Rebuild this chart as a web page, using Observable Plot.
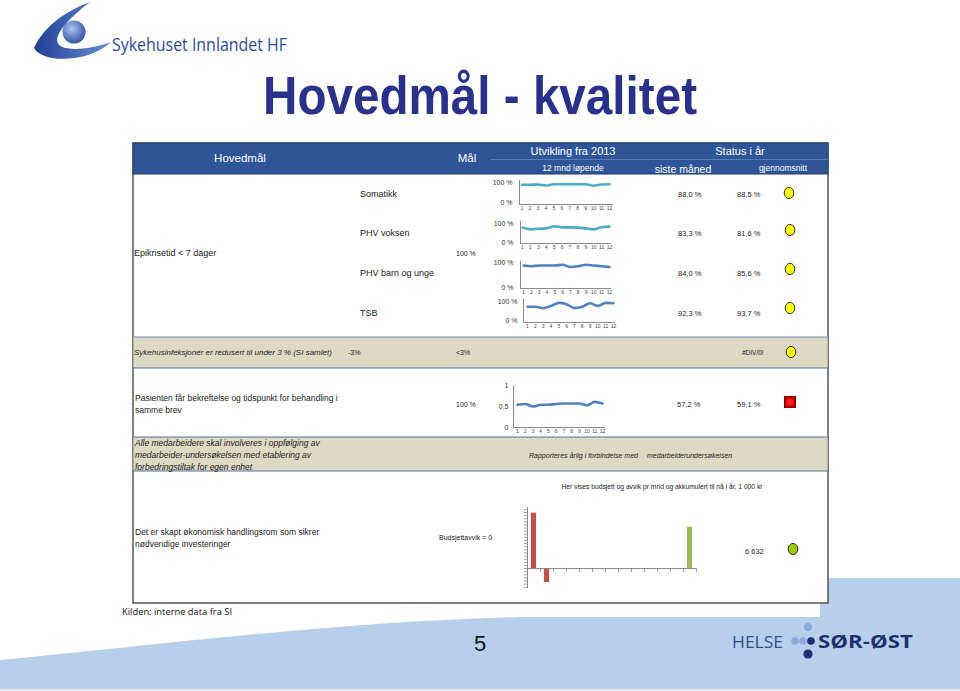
<!DOCTYPE html>
<html><head><meta charset="utf-8">
<script src="https://cdn.jsdelivr.net/npm/d3@7"></script>
<script src="https://cdn.jsdelivr.net/npm/@observablehq/plot@0.6"></script>
<style>
html,body{margin:0;padding:0;background:#fff;}
#page{position:relative;width:960px;height:691px;overflow:hidden;font-family:"Liberation Sans",Arial,sans-serif;}
#bg{position:absolute;left:0;top:0;}
.plot{position:absolute;}
</style></head><body><div id="page"><svg id="bg" width="960" height="691"></svg></div>
<script>
// ---------- DATA ----------
const months = [1,2,3,4,5,6,7,8,9,10,11,12];
const somatikk   = [89, 89, 90, 85, 91, 91, 91, 91, 91, 84, 90, 91];
const phvVoksen  = [79, 70, 73, 75, 86, 80, 80, 79, 75, 70, 81, 84];
const phvBarn    = [88, 85, 88, 88, 88, 91, 82, 85, 91, 88, 85, 82];
const tsb        = [72, 72, 65, 77, 93, 86, 65, 72, 91, 77, 93, 91];
const pasient    = [0.54, 0.56, 0.50, 0.54, 0.54, 0.56, 0.57, 0.57, 0.57, 0.53, 0.61, 0.57];
const budsjettMnd = [8880, -2248, 0, 0, 0, 0, 0, 0, 0, 0, 0, 0];
const budsjettAkk = 6632;
const pctTicks = [0, 100];
const andelTicks = [0, 0.5, 1];

const rowLabels = ["Somatikk", "PHV voksen", "PHV barn og unge", "TSB"];
const sisteManed = ["88,0 %", "83,3 %", "84,0 %", "92,3 %"];
const gjennomsnitt = ["88,5 %", "81,6 %", "85,6 %", "93,7 %"];

// ---------- BACKGROUND / LAYOUT ----------
const svg = d3.select("#bg");
const FONT = "Liberation Sans, Arial, sans-serif";
function txt(x, y, s, o = {}) {
  const t = svg.append("text").attr("x", x).attr("y", y).text(s)
    .attr("dominant-baseline", "central")
    .attr("font-family", o.family || FONT)
    .attr("font-size", o.size || 9)
    .attr("font-weight", o.weight || "normal")
    .attr("font-style", o.style || "normal")
    .attr("text-anchor", o.anchor || "start")
    .attr("fill", o.fill || "#222");
  if (o.len) t.attr("textLength", o.len).attr("lengthAdjust", "spacingAndGlyphs");
  return t;
}
const defs = svg.append("defs");
const lg = defs.append("linearGradient").attr("id", "sw").attr("x1", "0").attr("x2", "1").attr("y1", "0").attr("y2", "0");
lg.append("stop").attr("offset", "0").attr("stop-color", "#1f3f96");
lg.append("stop").attr("offset", "1").attr("stop-color", "#6b8fd6");
const rg = defs.append("radialGradient").attr("id", "ball").attr("cx", "0.4").attr("cy", "0.35").attr("r", "0.7");
rg.append("stop").attr("offset", "0").attr("stop-color", "#a9c4ee");
rg.append("stop").attr("offset", "1").attr("stop-color", "#2b4ea5");

// wave
svg.append("path").attr("d", "M0,660 C160,645 330,622 520,617 L960,617 L960,689 L0,689 Z").attr("fill", "#b7cfeb");
svg.append("rect").attr("x", 820).attr("y", 578).attr("width", 140).attr("height", 50).attr("fill", "#b7cfeb");
svg.append("rect").attr("x", 0).attr("y", 689).attr("width", 960).attr("height", 2).attr("fill", "#e6e9ee");

// logo
svg.append("path").attr("d", "M34,48 C42,30 62,12 90,2 C72,16 58,30 57,40 C57,51 82,52 111,42 C96,56 72,61 52,58 C42,56 36,52 34,48 Z").attr("fill", "url(#sw)");
svg.append("circle").attr("cx", 74).attr("cy", 32).attr("r", 11.5).attr("fill", "url(#ball)");
txt(112, 44, "Sykehuset Innlandet HF", {size: 19, fill: "#2b4c9e", family: "Open Sans, Liberation Sans, sans-serif", len: 175});

// title
txt(480, 95, "Hovedmål - kvalitet", {size: 53, weight: "bold", anchor: "middle", fill: "#29318a", len: 434});

// frame
svg.append("rect").attr("x", 133).attr("y", 143).attr("width", 695).attr("height", 460).attr("fill", "#fff").attr("stroke", "#555").attr("stroke-width", 1.5);
svg.append("rect").attr("x", 133).attr("y", 143).attr("width", 695).attr("height", 31).attr("fill", "#2e5597").attr("stroke", "#1f3f75").attr("stroke-width", 1);
svg.append("line").attr("x1", 490).attr("x2", 828).attr("y1", 159.5).attr("y2", 159.5).attr("stroke", "#5b7cb8").attr("stroke-width", 1);

// header text
const W = "#fff";
txt(240, 158, "Hovedmål", {size: 11.5, anchor: "middle", fill: W});
txt(467, 158, "Mål", {size: 11.5, anchor: "middle", fill: W});
txt(573, 151, "Utvikling fra 2013", {size: 11, anchor: "middle", fill: W});
txt(573, 168, "12 mnd løpende", {size: 8.5, anchor: "middle", fill: W});
txt(740, 151, "Status i år", {size: 11, anchor: "middle", fill: W});
txt(683, 169, "siste måned", {size: 10.5, anchor: "middle", fill: W});
txt(783, 168, "gjennomsnitt", {size: 8.5, anchor: "middle", fill: W});

// epikrise rows
const rowY = [194, 233, 273, 313];
rowLabels.forEach((s, i) => {
  txt(360, rowY[i], s, {size: 9});
  txt(678, rowY[i], sisteManed[i], {size: 7.5});
  txt(737, rowY[i], gjennomsnitt[i], {size: 7.5});
});
txt(134, 253, "Epikrisetid < 7 dager", {size: 9});
txt(456, 253, "100 %", {size: 7});
const circY = [193, 230, 269, 308];
function yellow(x, y, fill = "#ffff00") {
  svg.append("ellipse").attr("cx", x).attr("cy", y).attr("rx", 4.8).attr("ry", 5.6).attr("fill", fill).attr("stroke", "#333").attr("stroke-width", 1);
}
circY.forEach((y, i) => yellow(789 + (i ? 1 : 0), y));

// infection band
svg.append("rect").attr("x", 133.5).attr("y", 337).attr("width", 694).attr("height", 31).attr("fill", "#ddd9c3");
svg.append("line").attr("x1", 133).attr("x2", 828).attr("y1", 337).attr("y2", 337).attr("stroke", "#6f86b0");
svg.append("line").attr("x1", 133).attr("x2", 828).attr("y1", 368).attr("y2", 368).attr("stroke", "#4f6fa8");
txt(134, 352, "Sykehusinfeksjoner er redusert til under 3 % (SI samlet)", {size: 8, style: "italic"});
txt(348, 352, "-3%", {size: 7});
txt(456, 352, "<3%", {size: 7});
txt(742, 352, "#DIV/0!", {size: 6.5});
yellow(791, 352);

// pasient row
txt(135, 398, "Pasienten får bekreftelse og tidspunkt for behandling i", {size: 8.5});
txt(135, 410, "samme brev", {size: 8.5});
txt(456, 404, "100 %", {size: 7});
txt(677, 404, "57,2 %", {size: 7.5});
txt(737, 404, "59,1 %", {size: 7.5});
svg.append("rect").attr("x", 784.5).attr("y", 396.5).attr("width", 11).attr("height", 11).attr("fill", "#e00000").attr("stroke", "#7a0000");
svg.append("circle").attr("cx", 790).attr("cy", 402).attr("r", 4.3).attr("fill", "#ff1a1a").attr("stroke", "#900");

// medarbeider band
svg.append("rect").attr("x", 133.5).attr("y", 437).attr("width", 694).attr("height", 34).attr("fill", "#ddd9c3");
svg.append("line").attr("x1", 133).attr("x2", 828).attr("y1", 437).attr("y2", 437).attr("stroke", "#4f6fa8");
svg.append("line").attr("x1", 133).attr("x2", 828).attr("y1", 471).attr("y2", 471).attr("stroke", "#4f6fa8");
txt(135, 443, "Alle medarbeidere skal involveres i oppfølging av", {size: 8.5, style: "italic"});
txt(135, 455, "medarbeider-undersøkelsen med etablering av", {size: 8.5, style: "italic"});
txt(135, 467, "forbedringstiltak for egen enhet", {size: 8.5, style: "italic"});
txt(529, 455, "Rapporteres årlig i forbindelse med", {size: 7, style: "italic"});
txt(647, 455, "medarbeiderundersøkelsen", {size: 7, style: "italic"});

// budget
txt(662, 486, "Her vises budsjett og avvik pr mnd og akkumulert til nå i år, 1 000 kr", {size: 6.5, anchor: "middle", len: 201});
txt(135, 532, "Det er skapt økonomisk handlingsrom som sikrer", {size: 8.5});
txt(135, 544, "nødvendige investeringer", {size: 8.5});
txt(439, 537, "Budsjettavvik = 0", {size: 7});
txt(745, 551, "6 632", {size: 7.5});
yellow(793, 549, "#99cc00");

// footer
txt(122, 611, "Kilden: interne data fra SI", {size: 9, family: "Open Sans, Liberation Sans, sans-serif", len: 110, fill: "#111"});
txt(480, 643, "5", {size: 22, anchor: "middle", fill: "#111"});
txt(732, 641, "HELSE", {size: 17, fill: "#2f4f8f", family: "Open Sans, Liberation Sans, sans-serif", len: 51});
[[795, 641, 3.8, "#8eaadb"], [803, 641, 3.8, "#8eaadb"], [811, 641, 3.8, "#1f2f73"], [808, 627, 4.2, "#8eaadb"], [808, 654, 4.6, "#1f2f73"]]
  .forEach(([x, y, r, c]) => svg.append("circle").attr("cx", x).attr("cy", y).attr("r", r).attr("fill", c));
txt(818, 641, "SØR-ØST", {size: 18, weight: "bold", fill: "#1d2f6f", family: "Open Sans, Liberation Sans, sans-serif", len: 95});

// ---------- PLOTS ----------
const page = document.getElementById("page");
function place(el, left, top, bg) {
  el.classList.add("plot");
  el.style.left = left + "px";
  el.style.top = top + "px";
  if (bg) el.style.background = bg;
  page.appendChild(el);
}
function spark(values, c) {
  const ml = 30, mr = 4, mt = c.mt ?? 4, mb = 8;
  const k = (c.x12 - c.x1) / 11;
  const xd = [1 - (c.x1 - c.ax0) / k, 12 + (c.ax1 - c.x12) / k];
  const m = (c.y0 - c.yMaxPx) / c.yMax;
  const yd = [-(c.yBot - c.y0) / m, c.yMax + (c.yMaxPx - c.yTop) / m];
  const width = ml + (c.ax1 - c.ax0) + mr;
  const height = mt + (c.yBot - c.yTop) + mb;
  const el = Plot.plot({
    width, height, marginLeft: ml, marginRight: mr, marginTop: mt, marginBottom: mb,
    style: {fontFamily: FONT, background: c.bg || "transparent", overflow: "visible"},
    x: {domain: xd, axis: null},
    y: {domain: yd, axis: null},
    marks: [
      Plot.axisY(c.ticks, {tickSize: 0, tickPadding: c.pad ?? 7, fontSize: 7, fill: "#333", tickFormat: c.fmt, label: null}),
      Plot.axisX(months, {tickSize: 0, tickPadding: 1.5, fontSize: 5, fill: "#444", label: null}),
      Plot.ruleX([xd[0]], {stroke: "#8a8a8a", strokeWidth: 1}),
      Plot.ruleY([yd[0]], {stroke: "#8a8a8a", strokeWidth: 1}),
      Plot.line(values.map((v, i) => ({m: months[i], v})), {x: "m", y: "v", stroke: c.color, strokeWidth: 2.6, curve: "monotone-x"})
    ]
  });
  place(el, c.ax0 - ml, c.yTop - mt);
}
const pct = d => d + " %";
const teal = "#4bacc6", blue = "#4f81bd";
spark(somatikk,  {color: teal, ax0: 519, ax1: 613, x1: 521.5, x12: 609, yTop: 180, yBot: 204, yMaxPx: 182, y0: 202, yMax: 100, ticks: pctTicks, fmt: pct});
spark(phvVoksen, {color: teal, ax0: 520, ax1: 611, x1: 522, x12: 609, yTop: 221, yBot: 243, yMaxPx: 223, y0: 242.5, yMax: 100, ticks: pctTicks, fmt: pct});
spark(phvBarn,   {color: blue, ax0: 520, ax1: 611, x1: 523, x12: 609, yTop: 261, yBot: 288, yMaxPx: 262, y0: 287, yMax: 100, ticks: pctTicks, fmt: pct});
spark(tsb,       {color: blue, ax0: 523, ax1: 615, x1: 527, x12: 613, yTop: 299, yBot: 322, yMaxPx: 301, y0: 320, yMax: 100, ticks: pctTicks, fmt: pct, pad: 6});
spark(pasient,   {color: blue, ax0: 513, ax1: 605, x1: 517, x12: 602, yTop: 385, yBot: 427, yMaxPx: 385, y0: 427, yMax: 1, ticks: andelTicks, fmt: d => String(d).replace(".", ","), pad: 5});

// budget bar chart
(function () {
  const cats = [...months, 13];
  const vals = [...budsjettMnd, budsjettAkk];
  const data = cats.map((c, i) => ({c, v: vals[i], akk: c === 13})).filter(d => d.v !== 0);
  const ml = 10, mr = 6, mt = 2, mb = 6;
  const el = Plot.plot({
    width: ml + 169 + mr, height: mt + 81 + mb, marginLeft: ml, marginRight: mr, marginTop: mt, marginBottom: mb,
    style: {fontFamily: FONT, background: "transparent", overflow: "visible"},
    x: {domain: [0.5, 13.5], axis: null},
    y: {domain: [-3200, 9800], axis: null},
    marks: [
      Plot.rect(data, {x1: d => d.c - 0.2, x2: d => d.c + 0.2, y1: 0, y2: "v", fill: d => d.akk ? "#9bbb59" : "#c0504d"}),
      Plot.ruleY(d3.range(-3000, 10000, 500), {x1: 0.5 - 3 / 13, x2: 0.5, stroke: "#888", strokeWidth: 0.8}),
      Plot.ruleX(d3.range(0.5, 14, 1), {y1: 0, y2: -640, stroke: "#888", strokeWidth: 0.8}),
      Plot.ruleY([0], {stroke: "#888"}),
      Plot.ruleX([0.5], {stroke: "#888"})
    ]
  });
  place(el, 527 - ml, 507 - mt);
})();
</script>
</body></html>
